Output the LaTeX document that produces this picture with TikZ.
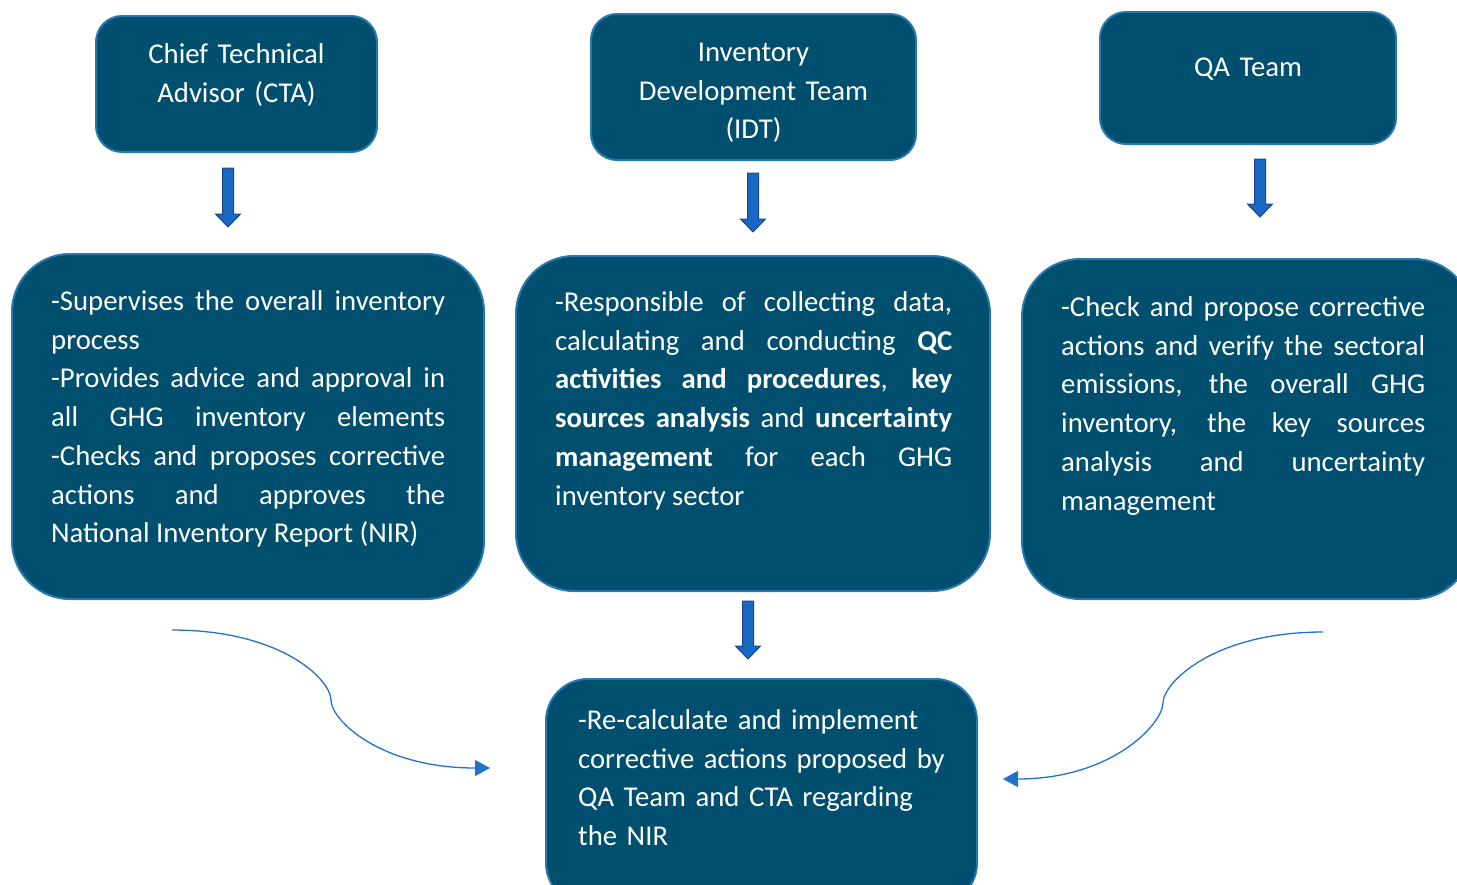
\documentclass[tikz,border=0pt]{standalone}
\usepackage{fontspec}
\setmainfont{Carlito}
\usetikzlibrary{arrows.meta}
\definecolor{boxfill}{RGB}{0,79,110}
\definecolor{boxline}{RGB}{38,120,175}
\definecolor{arrowblue}{RGB}{24,104,196}
\definecolor{arrowdark}{RGB}{22,72,140}
\definecolor{curveblue}{RGB}{34,114,200}
\newcommand\blockdown[2]{% start coordinate name, end coordinate name
  \path (#1) coordinate (bd@s) (#2) coordinate (bd@e);
  \filldraw[blockarrow]
    ([xshift=-5.5pt]bd@s) -- ([xshift=5.5pt]bd@s) -- ([xshift=5.5pt,yshift=13pt]bd@e)
    -- ([xshift=12.5pt,yshift=13pt]bd@e) -- (bd@e) -- ([xshift=-12.5pt,yshift=13pt]bd@e)
    -- ([xshift=-5.5pt,yshift=13pt]bd@e) -- cycle;}
\begin{document}
\begin{tikzpicture}[x=1pt,y=-1pt,
  headbox/.style={draw=boxline, line width=2pt, fill=boxfill, rounded corners=26pt, inner sep=0pt},
  bigbox/.style={draw=boxline, line width=2pt, fill=boxfill, rounded corners=58pt, inner sep=0pt},
  lowbox/.style={draw=boxline, line width=2pt, fill=boxfill, rounded corners=42pt, inner sep=0pt},
  txt/.style={text=white, inner sep=0pt, font=\fontsize{28.7}{38.7}\selectfont},
  blockarrow/.style={fill=arrowblue, draw=arrowdark, line width=1pt},
  curve/.style={draw=curveblue, line width=1.3pt, -{Triangle[length=15pt,width=16pt]}}]
\useasboundingbox (0,0) rectangle (1457,884);
\clip (0,0) rectangle (1457,884);

% top boxes
\node[headbox, minimum width=281, minimum height=136] (cta) at (236.5,84) {};
\node[headbox, minimum width=325, minimum height=146] (idt) at (753.5,87) {};
\node[headbox, minimum width=296, minimum height=132] (qa) at (1248,78) {};
\node[txt, anchor=base, text width=270, align=center] (ctat) at (236.5,63.5) {Chief Technical\\Advisor (CTA)};
\node[txt, anchor=base, text width=310, align=center] (idtt) at (753.5,61.5) {Inventory\\Development Team\\(IDT)};
\node[txt, anchor=base, text width=280, align=center] (qat) at (1248,76.5) {QA Team};

% middle boxes
\node[bigbox, minimum width=472, minimum height=345] (sup) at (248,426.5) {};
\node[bigbox, minimum width=474, minimum height=335] (resp) at (753,423.5) {};
\node[bigbox, minimum width=450, minimum height=340] (chk) at (1247,429) {};

\node[txt, anchor=base west, text width=394, align=justify] (supt) at (51,310.5)
 {-Supervises the overall inventory\linebreak process\newline
  -Provides advice and approval in\linebreak all GHG inventory elements\linebreak
  -Checks and proposes corrective\linebreak actions and approves the\linebreak
  National Inventory Report (NIR)};
\node[txt, anchor=base west, text width=397, align=justify] (respt) at (555,311.5)
 {-Responsible of collecting data,\linebreak calculating and conducting \textbf{QC}\linebreak
  \textbf{activities and procedures}, \textbf{key}\linebreak
  \textbf{sources analysis} and \textbf{uncertainty}\linebreak
  \textbf{management} for each GHG\linebreak inventory sector};
\node[txt, anchor=base west, text width=364, align=justify] (chkt) at (1061,316.5)
 {-Check and propose corrective\linebreak actions and verify the sectoral\linebreak
  emissions, the overall GHG\linebreak inventory, the key sources\linebreak
  analysis and uncertainty\linebreak management};

% bottom box
\node[lowbox, minimum width=431, minimum height=226] (rec) at (761.5,792) {};
\node[txt, anchor=base west, text width=390, align=left] (rect) at (578,729.5)
 {-Re-calculate and implement\\corrective actions proposed by\\QA Team and CTA regarding\\the NIR};

% block arrows
\coordinate (a1s) at (228,168); \coordinate (a1e) at (228,227);
\coordinate (a2s) at (753,173); \coordinate (a2e) at (753,232);
\coordinate (a3s) at (1260,159); \coordinate (a3e) at (1260,217);
\coordinate (a4s) at (748,601); \coordinate (a4e) at (748,659);
\blockdown{a1s}{a1e}
\blockdown{a2s}{a2e}
\blockdown{a3s}{a3e}
\blockdown{a4s}{a4e}

% curved arrows
\coordinate (l0) at (172,630); \coordinate (l1) at (331,700); \coordinate (l2) at (490,768);
\draw[curve] (l0) .. controls (282,630) and (331,680) .. (l1) .. controls (331,720) and (380,768) .. (l2);
\coordinate (r0) at (1323,632); \coordinate (r1) at (1163,703); \coordinate (r2) at (1003,779);
\draw[curve] (r0) .. controls (1213,632) and (1163,683) .. (r1) .. controls (1163,723) and (1113,779) .. (r2);
\end{tikzpicture}
\end{document}
